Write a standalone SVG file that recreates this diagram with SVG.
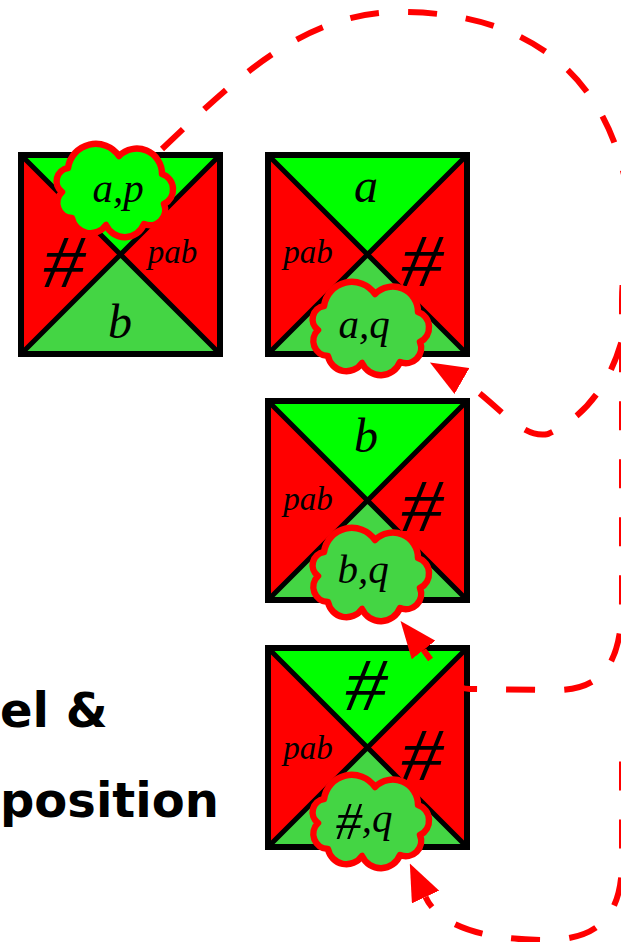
<svg xmlns="http://www.w3.org/2000/svg" xmlns:xlink="http://www.w3.org/1999/xlink" width="621" height="942" viewBox="0 0 621 942">
<style>
.r{fill:#ff0000}
.g1{fill:#00ff00}
.g2{fill:#44d544}
.diag{fill:none;stroke:#000;stroke-width:5}
.frame{fill:none;stroke:#000;stroke-width:6}
.cloud{stroke:#ff0000;stroke-width:6.5;stroke-linejoin:round}
.m{font-family:"Liberation Serif",serif;font-style:italic;fill:#000}
.big{font-size:48px}
.sm{font-size:33px}
.cl{font-size:41px}
.hash{font-family:"Liberation Serif",serif;font-style:italic;font-size:74px;fill:#000}
.hs{font-size:52px}
.conn{fill:none;stroke:#ff0000;stroke-width:6;stroke-dasharray:29 29}
.title{font-family:"DejaVu Sans",sans-serif;font-weight:bold;font-size:48px;fill:#000}
</style>
<defs>
<g id="tile">
<polygon class="g1" points="0,0 199,0 99.5,99.5"/>
<polygon class="r" points="0,0 0,199 99.5,99.5"/>
<polygon class="r" points="199,0 199,199 99.5,99.5"/>
<polygon class="g2" points="0,199 199,199 99.5,99.5"/>
<path class="diag" d="M0,0L199,199M199,0L0,199"/>
<rect class="frame" x="0" y="0" width="199" height="199"/>
</g>
<path id="cloud" d="M-46,-22 A28.1,28.1 0 0 1 5,-34 A25.2,25.2 0 0 1 48,-16 A16.3,16.3 0 0 1 50,14 A15.3,15.3 0 0 1 30,34 A20.6,20.6 0 0 1 -8,35 A18.8,18.8 0 0 1 -42,28 A15.1,15.1 0 0 1 -52,2 A13.4,13.4 0 0 1 -46,-22 Z"/>
<marker id="ah" markerUnits="userSpaceOnUse" viewBox="0 0 37 30" markerWidth="37" markerHeight="30" refX="0" refY="15" orient="auto-start-reverse">
<path d="M0,0 L37,15 L0,30 Z" fill="#ff0000"/>
</marker>
</defs>
<rect x="0" y="0" width="621" height="942" fill="#ffffff"/>

<g id="label">
<text class="title" x="0" y="727">el &amp;</text>
<text class="title" x="0" y="817">position</text>
</g>

<g id="tile1">
<use href="#tile" x="21" y="155"/>
<text class="hash" x="64" y="287" text-anchor="middle" textLength="42" lengthAdjust="spacingAndGlyphs">#</text>
<text class="m sm" x="172.5" y="263" text-anchor="middle">pab</text>
<text class="m big" x="120" y="338" text-anchor="middle">b</text>
<use href="#cloud" x="114" y="190" class="cloud" fill="#00ff00"/>
<text class="m cl" x="118" y="202" text-anchor="middle">a,p</text>
</g>

<g id="tile2">
<use href="#tile" x="268" y="155"/>
<text class="m big" x="366" y="202" text-anchor="middle">a</text>
<text class="m sm" x="308" y="263" text-anchor="middle">pab</text>
<text class="hash" x="422" y="286" text-anchor="middle" textLength="42" lengthAdjust="spacingAndGlyphs">#</text>
<use href="#cloud" x="370" y="328" class="cloud" fill="#44d544"/>
<text class="m cl" x="364" y="338" text-anchor="middle">a,q</text>
</g>

<g id="tile3">
<use href="#tile" x="268" y="401"/>
<text class="m big" x="366" y="452" text-anchor="middle">b</text>
<text class="m sm" x="308" y="510" text-anchor="middle">pab</text>
<text class="hash" x="422" y="531" text-anchor="middle" textLength="42" lengthAdjust="spacingAndGlyphs">#</text>
<use href="#cloud" x="370" y="574" class="cloud" fill="#44d544"/>
<text class="m cl" x="363" y="583" text-anchor="middle">b,q</text>
</g>

<g id="tile4">
<use href="#tile" x="268" y="648"/>
<text class="hash" x="366" y="710" text-anchor="middle" textLength="42" lengthAdjust="spacingAndGlyphs">#</text>
<text class="m sm" x="308" y="759" text-anchor="middle">pab</text>
<text class="hash" x="422" y="780" text-anchor="middle" textLength="42" lengthAdjust="spacingAndGlyphs">#</text>
<use href="#cloud" x="370" y="821" class="cloud" fill="#44d544"/>
<text class="m cl" x="364" y="832" text-anchor="middle"><tspan class="hs" dy="7">#</tspan><tspan dy="-7">,q</tspan></text>
</g>

<g id="connectors">
<path class="conn" marker-end="url(#ah)" d="M162,149 C230,85 300,12 400,12 C560,12 632,110 632,250 C634,330 612,405 548,434 C520,440 495,400 462,381"/>
<path class="conn" marker-start="url(#ah)" style="stroke-dashoffset:17" d="M423.5,650 C433,662 448,689 470,689 L560,690 C605,688 622,660 622,600 L622,300 C622,270 628,250 640,240"/>
<path class="conn" marker-start="url(#ah)" style="stroke-dashoffset:17" d="M425.5,897 C440,928 490,940 545,940 C600,940 622,915 622,860 L622,760 C622,740 630,720 640,710"/>
</g>
</svg>
